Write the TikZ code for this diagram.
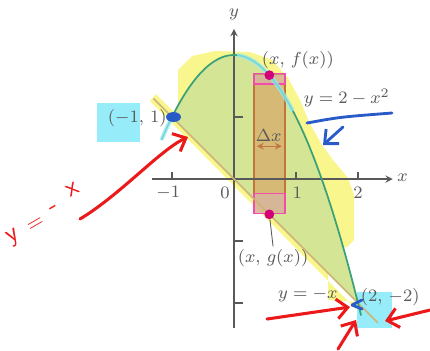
\documentclass[tikz,border=0pt]{standalone}
\usepackage{amsmath}
\usetikzlibrary{arrows.meta,positioning,calc}

\definecolor{regiongreen}{RGB}{212,230,150}
\definecolor{hlyellow}{RGB}{248,246,140}
\definecolor{hlcyan}{RGB}{150,236,248}
\definecolor{curvegreen}{RGB}{60,160,120}
\definecolor{linetan}{RGB}{205,180,120}
\definecolor{striporange}{RGB}{214,170,105}
\definecolor{stripedge}{RGB}{195,115,60}
\definecolor{dotmagenta}{RGB}{210,0,120}
\definecolor{penred}{RGB}{235,25,25}
\definecolor{penblue}{RGB}{40,90,200}
\definecolor{labelgray}{RGB}{90,90,90}

\begin{document}
\begin{tikzpicture}[
    lbl/.style={font=\footnotesize, text=labelgray, inner sep=1pt},
    axis/.style={->, >=stealth, gray!70!black, line width=0.5pt},
    dot/.style={circle, fill=dotmagenta, minimum size=4.5pt, inner sep=0pt},
    pinkbox/.style={draw=magenta!70, fill=violet!30, fill opacity=0.35, line width=0.6pt},
    redpen/.style={penred, line width=1.4pt, line cap=round, line join=round},
    bluepen/.style={penblue, line width=1.3pt, line cap=round, line join=round},
    pentip/.style={-{Straight Barb[length=5pt,width=9pt]}},
    hand/.style={text=penred, font=\sffamily\large, rotate=30, inner sep=0pt},
    pxgrid/.style={shift={(-3.774,2.887)}, x=0.016129cm, y=-0.016129cm},
]
\useasboundingbox (-3.774,-2.758) rectangle (3.161,2.887);

% highlighter marks under the figure
\begin{scope}[pxgrid]
\fill[hlyellow] (178,70) -- (192,56) -- (215,51) -- (250,52) -- (272,60) -- (288,78)
    -- (300,100) -- (310,124) -- (322,145) -- (333,160) -- (348,178) -- (354,195)
    -- (354,240) -- (347,247) -- (328,250) -- (328,300) -- (360,302) -- (356,309)
    -- (150,101) -- (156,94) -- (178,116) -- cycle;
\fill[hlcyan] (97,103) rectangle (140,142);
\fill[hlcyan] (357,292) rectangle (392,328);
\end{scope}

% region between the curves
\fill[regiongreen] plot[domain=-1:2, samples=60, smooth] (\x,{2-\x*\x}) -- cycle;

% representative strip
\filldraw[fill=striporange, fill opacity=0.75, draw=stripedge, line width=0.6pt]
    (0.32,-0.56) rectangle (0.82,1.69);
\filldraw[pinkbox] (0.32,1.53) rectangle (0.82,1.70);
\filldraw[pinkbox] (0.32,-0.56) rectangle (0.82,-0.23);

% axes
\draw[axis] (-1.32,0) -- (2.56,0);
\draw[axis] (0,-2.4) -- (0,2.42);
\foreach \t in {-1,1,2}
    \draw[gray!70!black, line width=0.5pt] (\t,0) -- (\t,0.12);
\foreach \t in {1,-1,-2}
    \draw[gray!70!black, line width=0.5pt] (0,\t) -- (0.15,\t);

% curves
\draw[linetan, line width=0.8pt] (-1.3,1.3) -- (2.32,-2.32);
\draw[curvegreen, line width=0.8pt] plot[domain=-1.17:2.05, samples=80, smooth] (\x,{2-\x*\x});
\draw[hlcyan, line width=2pt, opacity=0.7] plot[domain=0.05:0.95, samples=20, smooth] (\x,{2-\x*\x});
\draw[hlcyan, line width=2pt, opacity=0.7] plot[domain=-1.17:-0.98, samples=5] (\x,{2-\x*\x});

% points
\node[dot] (fdot) at (0.57,1.675) {};
\node[dot] (gdot) at (0.57,-0.57) {};
\fill[penblue] (-0.976,1.0) ellipse (0.12 and 0.08);

% labels
\node[lbl] (xlab) at (2.72,0.02) {$x$};
\node[lbl] (ylab) at (0,2.65) {$y$};
\node[lbl] (tm1) at (-1.06,-0.23) {$-1$};
\node[lbl] (t0) at (-0.145,-0.23) {$0$};
\node[lbl] (t1) at (1.02,-0.23) {$1$};
\node[lbl] (t2) at (2.0,-0.23) {$2$};
\node[lbl] (fxlab) at (1.03,1.92) {$(x,\,f(x))$};
\node[lbl] (curvelab) at (1.82,1.31) {$y = 2 - x^2$};
\node[lbl] (ptA) at (-1.56,0.98) {$(-1,\,1)$};
\node[lbl] (dx) at (0.56,0.7) {$\Delta x$};
\node[lbl] (gxlab) at (0.63,-1.27) {$(x,\,g(x))$};
\node[lbl] (linelab) at (1.19,-1.87) {$y = -x$};
\node[lbl] (ptB) at (2.52,-1.90) {$(2,\,-2)$};

\coordinate (dxl) at (0.37,0.53);
\coordinate (dxr) at (0.77,0.53);
\draw[<->, >=stealth, stripedge, line width=0.4pt] (dxl) -- (dxr);
\draw[labelgray, line width=0.4pt] (gdot) -- (gxlab.north);

% pen notes on top
\begin{scope}[pxgrid]
\node[hand] (handy) at (14,238) {y};
\node[hand, font=\sffamily\normalsize] (handeq) at (36,225) {=};
\node[hand] (handmin) at (55,210) {-};
\node[hand] (handx) at (73,190) {x};
\draw[redpen, pentip] (80,219) .. controls (120,195) and (160,150) .. (188,137);
\draw[redpen, pentip] (267,319) -- (350,307);
\draw[redpen, pentip] (338,349) -- (356,320);
\draw[redpen, pentip] (430,310) -- (385,321);
\draw[bluepen] (307,123) .. controls (340,117) .. (392,113);
\draw[bluepen, pentip] (343,127) -- (323,145);
\draw[bluepen] (362,300) -- (352,305) -- (362,309);
\end{scope}
\end{tikzpicture}
\end{document}
